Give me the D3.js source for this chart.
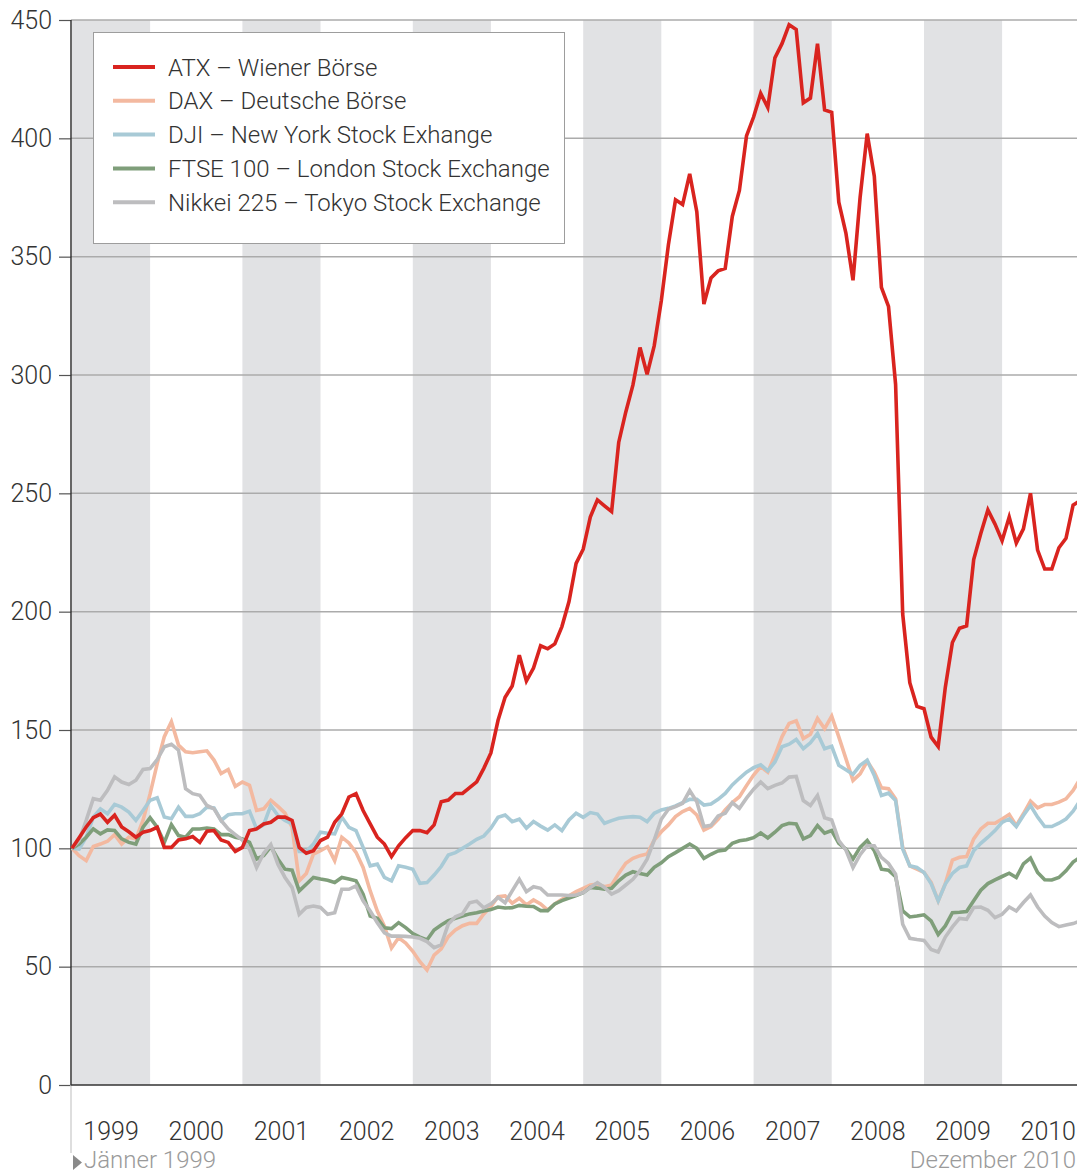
<!DOCTYPE html>
<html lang="de">
<head>
    <meta charset="UTF-8">
    <script src="https://cdn.jsdelivr.net/npm/d3@7/dist/d3.min.js"></script>
    <title>Indizes 1999-2010</title>
    <style>
        body {
            margin: 0;
            background: #fff;
            overflow: hidden;
        }
        #chart {
            display: block;
            font-family: Roboto, "Liberation Sans", Arial, sans-serif;
            font-weight: 300;
        }
        #chart .tick text {
            font-family: Roboto, "Liberation Sans", Arial, sans-serif;
            font-weight: 300;
        }
    </style>
</head>
<body>
<svg id="chart"></svg>
<script>
    // monthly index values, Jänner 1999 = 100
    const years = [1999, 2000, 2001, 2002, 2003, 2004, 2005, 2006, 2007, 2008, 2009, 2010];
    const startLabel = "Jänner 1999";
    const endLabel = "Dezember 2010";
    const yTicks = [0, 50, 100, 150, 200, 250, 300, 350, 400, 450];

    const atx = [100, 104.5, 109, 113, 114.5, 111, 114, 109, 107, 104.7, 106.8, 107.5,
        108.9, 100.4, 100.4, 103.5, 104, 105, 102.5, 107.2, 107.5, 103.5, 102.5, 98.7,
        100.4, 107.5, 108.2, 110.3, 111, 113.2, 113.2, 111.8, 100.4, 97.9, 99, 103.3,
        104.7, 111, 114.6, 121.7, 123.1, 116, 110.3, 104.7, 101.8, 96.5, 101.1, 104.5,
        107.5, 107.5, 106.6, 109.9, 119.7, 120.4, 123.2, 123.2, 125.7, 128.1, 133.8, 140.3,
        154, 163.8, 168.6, 181.6, 170.7, 176.2, 185.6, 184.3, 186.4, 193.7, 204.3, 220.4,
        226.4, 240, 247.2, 244.7, 242.3, 271.5, 284.4, 295.7, 311.6, 300.3, 312.3, 331.4,
        355, 374, 372, 385, 369, 330, 341, 344, 345, 367, 378, 401,
        409, 419, 413, 434, 440, 448, 446, 415, 417, 440, 412, 411,
        373, 360, 340, 375, 402, 384, 337, 329, 296, 199, 170, 160,
        159, 147, 143, 168, 187, 193, 194, 222, 233, 243, 237, 230,
        240, 229, 235, 250, 226, 218, 218, 227, 231, 245, 247, 250];

    const dax = [100, 96.9, 94.8, 100.8, 101.8, 103, 105.8, 101.8, 104.7, 104, 111.8, 123,
        135.8, 147.2, 153.5, 143.6, 140.8, 140.4, 140.8, 141.2, 137.3, 131.6, 133.3, 126.2,
        128, 126.6, 116, 116.7, 120.3, 117.7, 114.9, 108.9, 86.3, 89.4, 97.6, 99,
        100.7, 94.8, 104.7, 102.3, 98.3, 91.9, 82, 73.5, 67.1, 57.9, 62.2, 60,
        56.5, 52.1, 48.6, 54.9, 57.5, 62.7, 65.5, 67.3, 68.3, 68.3, 72.3, 75.4,
        79.6, 79.9, 76.8, 78.9, 76.1, 78.2, 76.5, 73.9, 76.5, 78.5, 79.9, 81.7,
        83.1, 84.5, 84.9, 83.8, 84.5, 89.4, 93.7, 95.8, 96.9, 97.6, 103.5, 107,
        109.9, 113.4, 115.5, 116.9, 114.1, 107.7, 109.2, 112.3, 116.2, 119.3, 121.8, 126.5,
        131, 134.5, 132.2, 139.3, 147.1, 152.8, 153.9, 146.4, 148.2, 154.9, 150.6, 155.9,
        147.1, 137.9, 128.7, 131.5, 136.8, 132.2, 125.6, 125.2, 120.9, 100.4, 92.6, 91.2,
        89.8, 85.6, 77.8, 85.1, 95, 96.2, 96.5, 104, 108.2, 110.6, 110.6, 112.4,
        114.3, 109.6, 114.6, 119.9, 117.1, 118.5, 118.5, 119.5, 120.9, 124.5, 129.4, 132];

    const dji = [100, 99.7, 104.7, 113.2, 116.7, 114.6, 118.6, 117.4, 115.3, 111.8, 116, 120.3,
        121.4, 113.2, 112.5, 117.4, 113.5, 113.5, 114.6, 117.4, 117.1, 111.8, 114.2, 114.6,
        114.6, 115.7, 108.2, 110, 118.1, 113.9, 111.8, 110.3, 98.7, 98.7, 101.8, 106.8,
        106.4, 106.1, 113.2, 108.9, 107.5, 100.4, 92.6, 93.3, 87.7, 86.3, 92.6, 92,
        91.2, 85.2, 85.5, 88.7, 92.3, 97.2, 98.2, 100, 101.8, 103.8, 105.2, 108.5,
        113.1, 114.1, 111.3, 112.3, 108.5, 111.3, 109.4, 107.7, 109.9, 107.5, 112, 114.8,
        113.1, 115.1, 114.5, 110.6, 111.7, 112.7, 113.1, 113.4, 113.1, 111.3, 114.8, 116.2,
        116.9, 117.9, 119.3, 120.7, 120.7, 118.3, 118.7, 120.7, 123.2, 126.8, 129.6, 132.2,
        134.1, 135.3, 132.7, 136.5, 142.9, 144, 146, 142.1, 144.6, 148.5, 142.1, 143.1,
        135.1, 133.2, 131.3, 135.1, 137.2, 130.8, 122.3, 123.3, 120.2, 99.7, 92.6, 91.9,
        89.8, 85.1, 77.8, 84.9, 89.4, 91.9, 92.6, 99, 102.1, 104.7, 107.5, 111,
        112.4, 109.2, 113.9, 118.1, 113.2, 109.2, 109.2, 110.6, 112.4, 115.7, 120.2, 122];

    const ftse = [100, 101.8, 104.7, 108.2, 106.1, 107.8, 107.5, 104, 102.5, 101.8, 108.9, 112.9,
        108.9, 102.5, 110, 105.4, 104.7, 108.2, 108.2, 108.6, 108.2, 105.8, 105.8, 104.7,
        104, 102.5, 95.5, 96.9, 100.7, 95.5, 91.2, 90.8, 82, 84.8, 87.7, 87,
        86.5, 85.6, 87.7, 87, 86.3, 80.6, 71.4, 70.4, 66.4, 66.1, 68.6, 66.5,
        64, 62.5, 61.3, 65.5, 67.6, 69.4, 70.4, 71.4, 72.3, 72.8, 73.5, 74.1,
        75.2, 74.8, 74.9, 75.9, 75.5, 75.4, 73.7, 73.7, 76.5, 77.9, 79, 80,
        81.3, 83.5, 83.2, 82.7, 83.1, 86.3, 88.7, 90.1, 89.4, 88.7, 92, 93.9,
        96.5, 98.2, 100, 101.8, 100, 95.8, 97.5, 98.9, 99.3, 102.1, 103.2, 103.6,
        104.5, 106.5, 104.4, 106.8, 109.6, 110.6, 110.3, 104, 105.4, 109.6, 106.4, 107.5,
        102.1, 99.7, 95.5, 100.4, 103.3, 99, 91.2, 90.8, 88, 73.6, 71, 71.4,
        71.9, 69.3, 63.6, 67.2, 72.8, 73, 73.3, 77.8, 82.3, 85.1, 86.7, 88.1,
        89.5, 87.7, 93.4, 95.9, 89.8, 86.7, 86.6, 87.7, 90.5, 94.2, 96.2, 97];

    const nikkei = [100, 103.3, 111.8, 121, 120.3, 124.5, 130.2, 128, 127, 128.8, 133.3, 133.7,
        137.5, 142.9, 144, 141.5, 125.2, 123.1, 122.4, 118.1, 116.7, 111.8, 108.2, 105.8,
        103.5, 99.7, 91.9, 97.9, 101.6, 93.3, 87.7, 83.4, 72.1, 75, 75.6, 75,
        72.1, 72.8, 82.7, 82.7, 84.1, 77.8, 73.5, 68.6, 64.3, 62.9, 62.9, 62.8,
        62.5, 62, 60.6, 58, 59.2, 68, 71.1, 72.3, 77, 77.7, 74.9, 76.5,
        79.3, 77, 82, 86.9, 81.7, 83.8, 83.1, 80.3, 80.3, 80.3, 80.1, 80.3,
        81.3, 83.5, 85.5, 83.5, 80.7, 82.1, 84.5, 86.9, 90.6, 95.4, 103.5, 112.3,
        116.5, 117.6, 119, 124.4, 119.7, 109.2, 109.7, 113.7, 114.8, 119.3, 116.9, 121.2,
        125, 128, 125.2, 126.6, 127.6, 130.1, 130.4, 120.2, 118.1, 122.3, 112.9, 112,
        103.3, 99.3, 91.9, 97.3, 101.1, 101.1, 96.2, 93.6, 89.1, 67.9, 62, 61.5,
        61.1, 57.3, 56.2, 62.5, 66.8, 70.4, 70, 75, 75.2, 73.8, 70.7, 72.1,
        75.2, 73.5, 77.1, 80.3, 75.2, 71.4, 68.6, 66.9, 67.6, 68.2, 69.3, 70];

    const seriesNames = [
        "ATX – Wiener Börse",
        "DAX – Deutsche Börse",
        "DJI – New York Stock Exhange",
        "FTSE 100 – London Stock Exchange",
        "Nikkei 225 – Tokyo Stock Exchange"
    ];
    const seriesValues = [atx, dax, dji, ftse, nikkei];
    const seriesColors = ["#d9241f", "#f3b9a0", "#a8cad6", "#7f9e7a", "#bdbdbf"];

    const width = 1077;
    const height = 1174;
    const plotLeft = 72;
    const plotTop = 20;
    const plotBottom = 1085;
    const monthWidth = 7.1;
    const nMonths = years.length * 12;

    const series = seriesNames.map((name, i) => ({name, values: seriesValues[i], color: seriesColors[i]}));

    // the plot runs a bit past the right edge of the picture (cropped)
    const x = d3.scaleLinear().domain([0, nMonths - 1]).range([plotLeft, plotLeft + (nMonths - 1) * monthWidth]);
    const y = d3.scaleLinear().domain([0, 450]).range([plotBottom, plotTop]);

    const svg = d3.select("#chart")
        .attr("width", width)
        .attr("height", height);

    // grey bands for every second year
    svg.append("g")
        .selectAll("rect")
        .data(years.filter((d, i) => i % 2 === 0))
        .join("rect")
        .attr("x", d => x((d - years[0]) * 12))
        .attr("width", d => x((d - years[0]) * 12 + 11) - x((d - years[0]) * 12))
        .attr("y", plotTop)
        .attr("height", plotBottom - plotTop)
        .attr("fill", "#e1e2e4");

    // grid
    svg.append("g")
        .selectAll("line")
        .data(yTicks.filter(d => d > 0))
        .join("line")
        .attr("x1", plotLeft - 1)
        .attr("x2", width)
        .attr("y1", d => y(d))
        .attr("y2", d => y(d))
        .attr("stroke", "#ababab")
        .attr("stroke-width", 1.5);

    // y axis
    const yAxis = svg.append("g")
        .attr("transform", `translate(${plotLeft - 1},0)`)
        .call(d3.axisLeft(y).tickValues(yTicks).tickSize(12).tickPadding(7));
    yAxis.select(".domain").remove();
    yAxis.selectAll(".tick line").attr("stroke", "#555").attr("stroke-width", 1.2);
    yAxis.selectAll(".tick text")
        .attr("fill", "#333")
        .attr("font-size", 25);

    svg.append("line")
        .attr("x1", plotLeft - 1).attr("x2", plotLeft - 1)
        .attr("y1", plotBottom).attr("y2", 1153)
        .attr("stroke", "#c8c8c8")
        .attr("stroke-width", 1.2);
    svg.append("line")
        .attr("x1", plotLeft - 1).attr("x2", plotLeft - 1)
        .attr("y1", plotTop).attr("y2", plotBottom)
        .attr("stroke", "#333")
        .attr("stroke-width", 1.5);
    svg.append("line")
        .attr("x1", plotLeft - 1).attr("x2", width)
        .attr("y1", plotBottom).attr("y2", plotBottom)
        .attr("stroke", "#333")
        .attr("stroke-width", 1.5);

    // year labels
    svg.append("g")
        .selectAll("text")
        .data(years)
        .join("text")
        .attr("x", d => x((d - years[0]) * 12 + 5.5))
        .attr("y", 1140)
        .attr("text-anchor", "middle")
        .attr("font-size", 25)
        .attr("fill", "#333")
        .text(d => d);

    svg.append("path")
        .attr("d", "M73,1155L82,1162.5L73,1170Z")
        .attr("fill", "#8a8a8a");
    svg.append("text")
        .attr("x", 84)
        .attr("y", 1168)
        .attr("font-size", 24)
        .attr("fill", "#9a9a9a")
        .text(startLabel);
    svg.append("text")
        .attr("x", width - 1)
        .attr("y", 1168)
        .attr("text-anchor", "end")
        .attr("font-size", 24)
        .attr("fill", "#9a9a9a")
        .text(endLabel);

    // lines, ATX on top
    const line = d3.line()
        .x((d, i) => x(i))
        .y(d => y(d));

    svg.append("g")
        .attr("fill", "none")
        .attr("stroke-width", 3.6)
        .attr("stroke-linejoin", "miter")
        .selectAll("path")
        .data([series[1], series[2], series[3], series[4], series[0]])
        .join("path")
        .attr("stroke", d => d.color)
        .attr("d", d => line(d.values));

    // legend
    const legend = svg.append("g");
    legend.append("rect")
        .attr("x", 93.5)
        .attr("y", 32.5)
        .attr("width", 471)
        .attr("height", 211)
        .attr("fill", "#fff")
        .attr("stroke", "#9d9d9d")
        .attr("stroke-width", 1);

    const item = legend.selectAll("g.item")
        .data(series)
        .join("g")
        .attr("class", "item")
        .attr("transform", (d, i) => `translate(0,${67 + i * 33.8})`);
    item.append("line")
        .attr("x1", 113)
        .attr("x2", 155)
        .attr("stroke", d => d.color)
        .attr("stroke-width", 4);
    item.append("text")
        .attr("x", 168)
        .attr("dy", "0.36em")
        .attr("font-size", 24)
        .attr("fill", "#333")
        .text(d => d.name);
</script>
</body>
</html>
